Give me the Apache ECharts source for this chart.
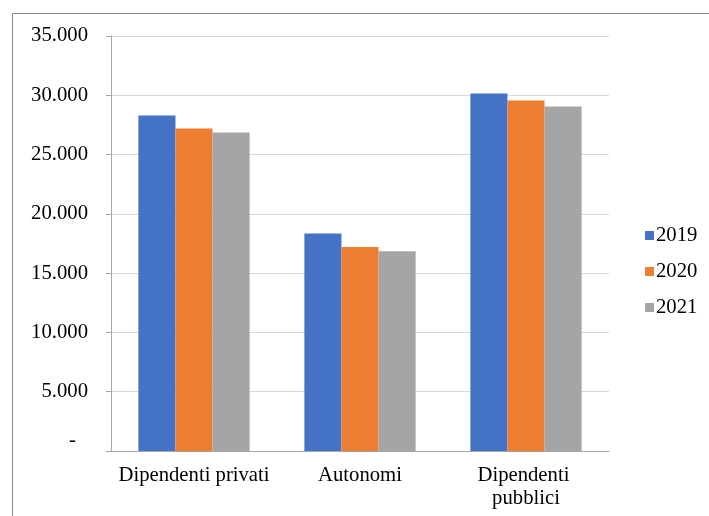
<!DOCTYPE html>
<html>
<head>
<meta charset="utf-8">
<script src="https://cdn.jsdelivr.net/npm/echarts@6/dist/echarts.min.js"></script>
<style>
html,body{margin:0;padding:0;background:#fff;}
#chart{width:709px;height:516px;}
</style>
</head>
<body>
<div id="chart"></div>
<script>
const categories = ['Dipendenti privati', 'Autonomi', 'Dipendenti pubblici'];
const seriesNames = ['2019', '2020', '2021'];
const values2019 = [28300, 18350, 30150];
const values2020 = [27200, 17200, 29550];
const values2021 = [26870, 16850, 29050];
const yTicks = [0, 5000, 10000, 15000, 20000, 25000, 30000, 35000];

const colors = ['#4472C4', '#ED7D31', '#A5A5A5'];
const allValues = [values2019, values2020, values2021];
const font = '"Liberation Serif", "Times New Roman", serif';
const fs = 20.7;

function fmt(v) {
  if (v === 0) return '{z|-}';
  return String(v).replace(/\B(?=(\d{3})+(?!\d))/g, '.');
}

const chart = echarts.init(document.getElementById('chart'), null, {renderer: 'canvas'});
chart.setOption({
  animation: false,
  backgroundColor: '#fff',
  color: colors,
  graphic: [{
    type: 'rect',
    shape: {x: 12.5, y: 13.5, width: 720, height: 520},
    style: {fill: 'none', stroke: '#8c8c8c', lineWidth: 1},
    silent: true
  }],
  grid: {left: 111, top: 36, right: 100, bottom: 65},
  legend: {
    orient: 'vertical',
    left: 640,
    top: 220,
    icon: 'rect',
    itemWidth: 9,
    itemHeight: 9,
    itemGap: 15,
    data: seriesNames,
    textStyle: {fontFamily: font, fontSize: fs, color: '#000', lineHeight: 20, padding: [0, 0, 0, -3]}
  },
  xAxis: {
    type: 'category',
    data: categories,
    axisLine: {lineStyle: {color: '#a6a6a6', width: 1}},
    axisTick: {length: 5, lineStyle: {color: '#a6a6a6'}},
    axisLabel: {
      fontFamily: font, fontSize: fs, color: '#000', margin: 13,
      lineHeight: 23, width: 158, overflow: 'break', interval: 0
    }
  },
  yAxis: {
    type: 'value',
    min: yTicks[0],
    max: yTicks[yTicks.length - 1],
    interval: yTicks[1] - yTicks[0],
    axisLine: {show: true, lineStyle: {color: '#a6a6a6', width: 1}},
    axisTick: {show: true, length: 5, lineStyle: {color: '#a6a6a6'}},
    splitLine: {lineStyle: {color: '#d9d9d9', width: 1}},
    axisLabel: {
      fontFamily: font, fontSize: fs, color: '#000', margin: 23, formatter: fmt,
      rich: {z: {fontFamily: font, fontSize: fs, color: '#000', padding: [0, 12, 20, 0]}}
    }
  },
  series: seriesNames.map((name, i) => ({
    name: name,
    type: 'bar',
    data: allValues[i],
    barGap: '0%',
    barCategoryGap: '33%',
    itemStyle: {color: colors[i]}
  }))
});
</script>
</body>
</html>
